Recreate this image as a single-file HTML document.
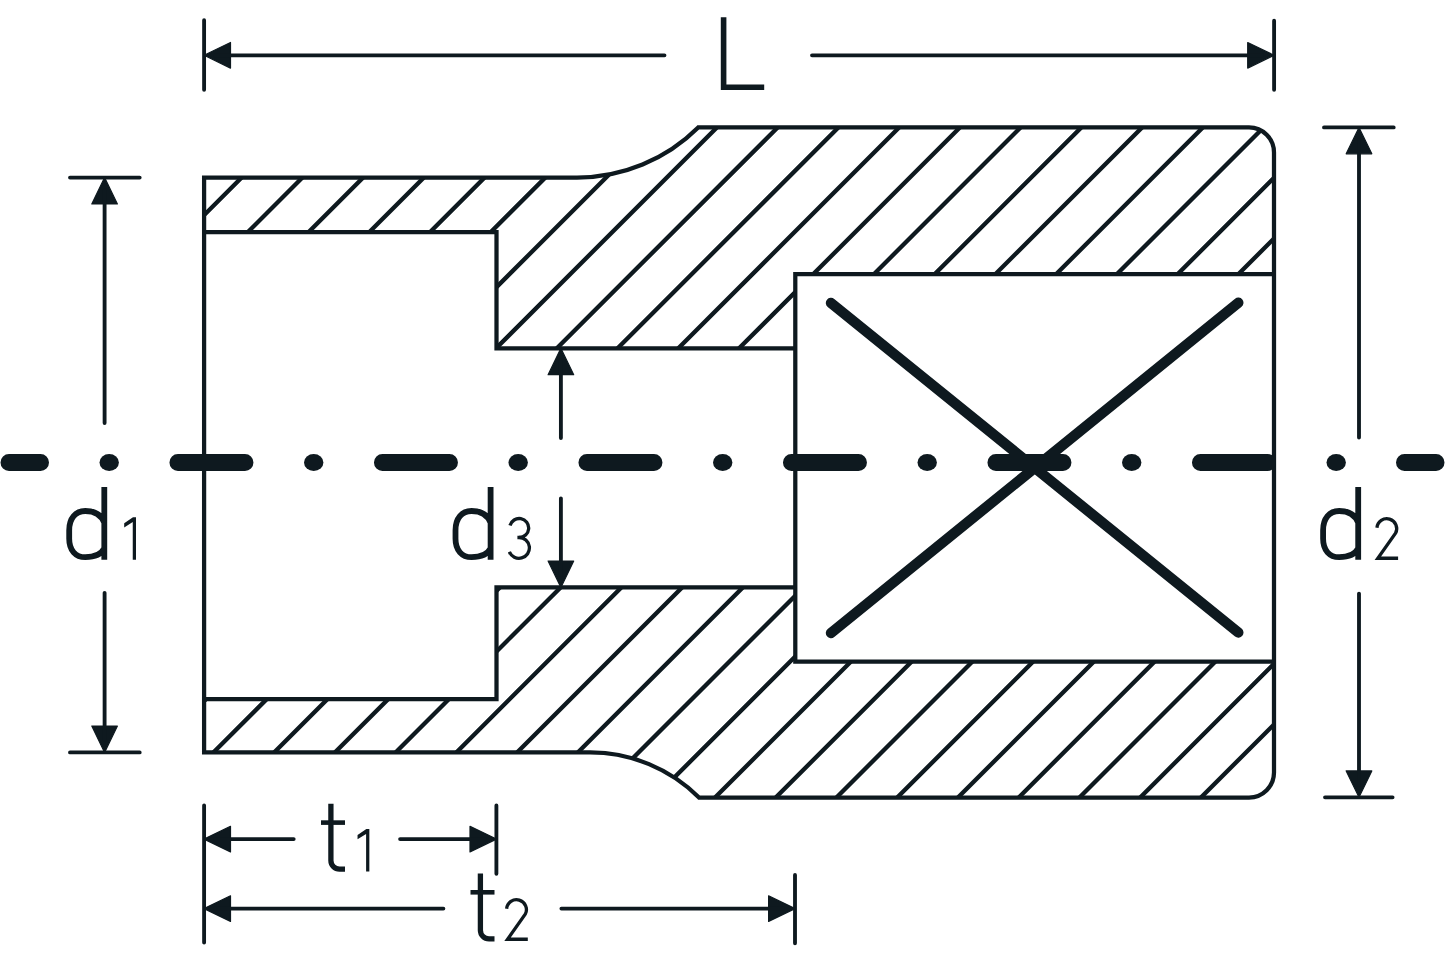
<!DOCTYPE html>
<html><head><meta charset="utf-8"><title>Socket drawing</title>
<style>html,body{margin:0;padding:0;background:#fff;}svg{display:block;}</style>
</head><body>
<svg width="1445" height="964" viewBox="0 0 1445 964">
<rect width="1445" height="964" fill="#fff"/>
<defs><clipPath id="hc"><path d="M204.1,177.5 H577 A172,172 0 0 0 698.2,127.4 H1249 A25,25 0 0 1 1274,152.4 V274.1 H795.3 V348.3 H496.5 V232 H204.1 Z"/><path d="M204.1,752.4 H590 A154,154 0 0 1 699,797.5 H1249 A25,25 0 0 0 1274,772.5 V661.5 H795.3 V587.4 H496.5 V699.1 H204.1 Z"/></clipPath></defs>
<path clip-path="url(#hc)" d="M197.72,100 L-552.28,850 M258.46,100 L-491.54,850 M319.2,100 L-430.8,850 M379.94,100 L-370.06,850 M440.68,100 L-309.32,850 M501.42,100 L-248.58,850 M562.16,100 L-187.84,850 M622.9,100 L-127.1,850 M683.64,100 L-66.36,850 M744.38,100 L-5.62,850 M805.12,100 L55.12,850 M865.86,100 L115.86,850 M926.6,100 L176.6,850 M987.34,100 L237.34,850 M1048.08,100 L298.08,850 M1108.82,100 L358.82,850 M1169.56,100 L419.56,850 M1230.3,100 L480.3,850 M1291.04,100 L541.04,850 M1351.78,100 L601.78,850 M1412.52,100 L662.52,850 M1473.26,100 L723.26,850 M1534,100 L784,850 M1594.74,100 L844.74,850 M1655.48,100 L905.48,850 M1716.22,100 L966.22,850 M1776.96,100 L1026.96,850 M1837.7,100 L1087.7,850 M1898.44,100 L1148.44,850 M1959.18,100 L1209.18,850 M2019.92,100 L1269.92,850 M2080.66,100 L1330.66,850 M2141.4,100 L1391.4,850 M2202.14,100 L1452.14,850 M2262.88,100 L1512.88,850 M2323.62,100 L1573.62,850 M2384.36,100 L1634.36,850 M2445.1,100 L1695.1,850 M2505.84,100 L1755.84,850 M2566.58,100 L1816.58,850 M2627.32,100 L1877.32,850 M2688.06,100 L1938.06,850" stroke="#0e191f" stroke-width="4.3" fill="none"/>
<path d="M204.1,177.5 H577 A172,172 0 0 0 698.2,127.4 H1249 A25,25 0 0 1 1274,152.4 V772.5 A25,25 0 0 1 1249,797.5 H699 A154,154 0 0 0 590,752.4 H204.1 Z" stroke="#0e191f" stroke-width="4.25" fill="none" stroke-linejoin="miter"/>
<path d="M204.1,232 H496.5 V348.3 H795.3 M204.1,699.1 H496.5 V587.4 H795.3 M1274,274.1 H795.3 V661.5 H1274" stroke="#0e191f" stroke-width="4.25" fill="none" stroke-linejoin="miter"/>
<path d="M831,303 L1238.3,632.5 M1238.3,302.7 L831,633" stroke="#0e191f" stroke-width="10.4" stroke-linecap="round" fill="none"/>
<path d="M9,462.5 H40.5 M177.95,462.5 H244.95 M382.45,462.5 H449.45 M586.95,462.5 H653.95 M791.45,462.5 H858.45 M995.95,462.5 H1062.95 M1200.45,462.5 H1267.45 M1404.5,462.5 H1436" stroke="#0e191f" stroke-width="17.0" stroke-linecap="round" fill="none"/>
<ellipse cx="109.2" cy="462.5" rx="9.7" ry="8.5" fill="#0e191f"/>
<ellipse cx="313.7" cy="462.5" rx="9.7" ry="8.5" fill="#0e191f"/>
<ellipse cx="518.2" cy="462.5" rx="9.7" ry="8.5" fill="#0e191f"/>
<ellipse cx="722.7" cy="462.5" rx="9.7" ry="8.5" fill="#0e191f"/>
<ellipse cx="927.2" cy="462.5" rx="9.7" ry="8.5" fill="#0e191f"/>
<ellipse cx="1131.7" cy="462.5" rx="9.7" ry="8.5" fill="#0e191f"/>
<ellipse cx="1336.2" cy="462.5" rx="9.7" ry="8.5" fill="#0e191f"/>
<path d="M204.1,55.3 L230.5,42.5 L230.5,68.1 Z" fill="#0e191f" stroke="#0e191f" stroke-width="1.2" stroke-linejoin="round"/>
<path d="M1274.1,55.3 L1247.7,68.1 L1247.7,42.5 Z" fill="#0e191f" stroke="#0e191f" stroke-width="1.2" stroke-linejoin="round"/>
<path d="M104.6,177.6 L117.4,204 L91.8,204 Z" fill="#0e191f" stroke="#0e191f" stroke-width="1.2" stroke-linejoin="round"/>
<path d="M104.6,752.4 L91.8,726 L117.4,726 Z" fill="#0e191f" stroke="#0e191f" stroke-width="1.2" stroke-linejoin="round"/>
<path d="M1359,127.4 L1371.8,153.8 L1346.2,153.8 Z" fill="#0e191f" stroke="#0e191f" stroke-width="1.2" stroke-linejoin="round"/>
<path d="M1359,797.3 L1346.2,770.9 L1371.8,770.9 Z" fill="#0e191f" stroke="#0e191f" stroke-width="1.2" stroke-linejoin="round"/>
<path d="M560.9,348.3 L573.7,374.7 L548.1,374.7 Z" fill="#0e191f" stroke="#0e191f" stroke-width="1.2" stroke-linejoin="round"/>
<path d="M560.9,587.4 L548.1,561 L573.7,561 Z" fill="#0e191f" stroke="#0e191f" stroke-width="1.2" stroke-linejoin="round"/>
<path d="M204.1,839.1 L230.5,826.3 L230.5,851.9 Z" fill="#0e191f" stroke="#0e191f" stroke-width="1.2" stroke-linejoin="round"/>
<path d="M496.4,839.1 L470,851.9 L470,826.3 Z" fill="#0e191f" stroke="#0e191f" stroke-width="1.2" stroke-linejoin="round"/>
<path d="M204.1,908.6 L230.5,895.8 L230.5,921.4 Z" fill="#0e191f" stroke="#0e191f" stroke-width="1.2" stroke-linejoin="round"/>
<path d="M795,908.6 L768.6,921.4 L768.6,895.8 Z" fill="#0e191f" stroke="#0e191f" stroke-width="1.2" stroke-linejoin="round"/>
<path d="M204.1,20.25 V89.75 M1274.1,20.75 V89.85 M215,55.3 H664.5 M812,55.3 H1262 M70,177.6 H139.7 M70,752.4 H139.7 M104.6,190 V423 M104.6,592.8 V740 M1324,127.4 H1393.7 M1325,797.3 H1392.6 M1359.0,140 V437.5 M1359.0,593.6 V785 M560.9,360 V438 M560.9,498.3 V575 M204.1,805.5 V942.5 M496.4,805.5 V873.8 M795,875 V943.3 M215,839.1 H293.7 M400.1,839.1 H485 M215,908.6 H443.4 M561.4,908.6 H783" stroke="#0e191f" stroke-width="3.85" stroke-linecap="round" fill="none"/>
<path d="M723.6,17.2 V87.3 H764.2" stroke="#0e191f" stroke-width="5.6" fill="none" stroke-linejoin="miter"/>
<path d="M104.3,487 V559.8 M104.3,522.8 C101.3,514.8 94.3,511 85.3,511 C75.6,511 69.2,518.5 69.2,530.3 L69.2,538.8 C69.2,550.3 75.6,557.2 85.3,557.2 C94.3,557.2 101.3,554.3 104.3,548.3" stroke="#0e191f" stroke-width="5.8" fill="none"/>
<path d="M124.2,523.2 L133,517.2 L136,517.2 L136,559.8 L132.75,559.8 L132.75,522.1 L124.2,527.4 Z" fill="#0e191f"/>
<path d="M490.6,487 V559.8 M490.6,522.8 C487.6,514.8 480.6,511 471.6,511 C461.9,511 455.5,518.5 455.5,530.3 L455.5,538.8 C455.5,550.3 461.9,557.2 471.6,557.2 C480.6,557.2 487.6,554.3 490.6,548.3" stroke="#0e191f" stroke-width="5.8" fill="none"/>
<path d="M510.02,525.54 A9.5,9.5 0 1 1 519.2,537.5 M517.4,537.5 H519 A10.4,10.4 0 1 1 509.36,551.8" stroke="#0e191f" stroke-width="3.3" fill="none"/>
<path d="M1358.2,487 V559.8 M1358.2,522.8 C1355.2,514.8 1348.2,511 1339.2,511 C1329.5,511 1323.1,518.5 1323.1,530.3 L1323.1,538.8 C1323.1,550.3 1329.5,557.2 1339.2,557.2 C1348.2,557.2 1355.2,554.3 1358.2,548.3" stroke="#0e191f" stroke-width="5.8" fill="none"/>
<path d="M1376.94,527.74 A9.9,9.9 0 1 1 1395.54,533.25 L1377.8,558.25 H1398.1" stroke="#0e191f" stroke-width="3.3" fill="none" stroke-linejoin="miter"/>
<path d="M330.9,803.7 V860.5 A8.6,8.6 0 0 0 339.5,869.1 H345" stroke="#0e191f" stroke-width="5.3" fill="none"/><path d="M321,822.6 H345" stroke="#0e191f" stroke-width="4.6" fill="none"/>
<path d="M357.55,835 L366.35,829 L369.35,829 L369.35,871.4 L366.1,871.4 L366.1,833.9 L357.55,839.2 Z" fill="#0e191f"/>
<path d="M480.4,873.4 V930.2 A8.6,8.6 0 0 0 489,938.8 H494.5" stroke="#0e191f" stroke-width="5.3" fill="none"/><path d="M470.5,892.3 H494.5" stroke="#0e191f" stroke-width="4.6" fill="none"/>
<path d="M506.64,908.74 A9.9,9.9 0 1 1 525.24,914.25 L507.5,939.25 H527.8" stroke="#0e191f" stroke-width="3.3" fill="none" stroke-linejoin="miter"/>
</svg>
</body></html>
